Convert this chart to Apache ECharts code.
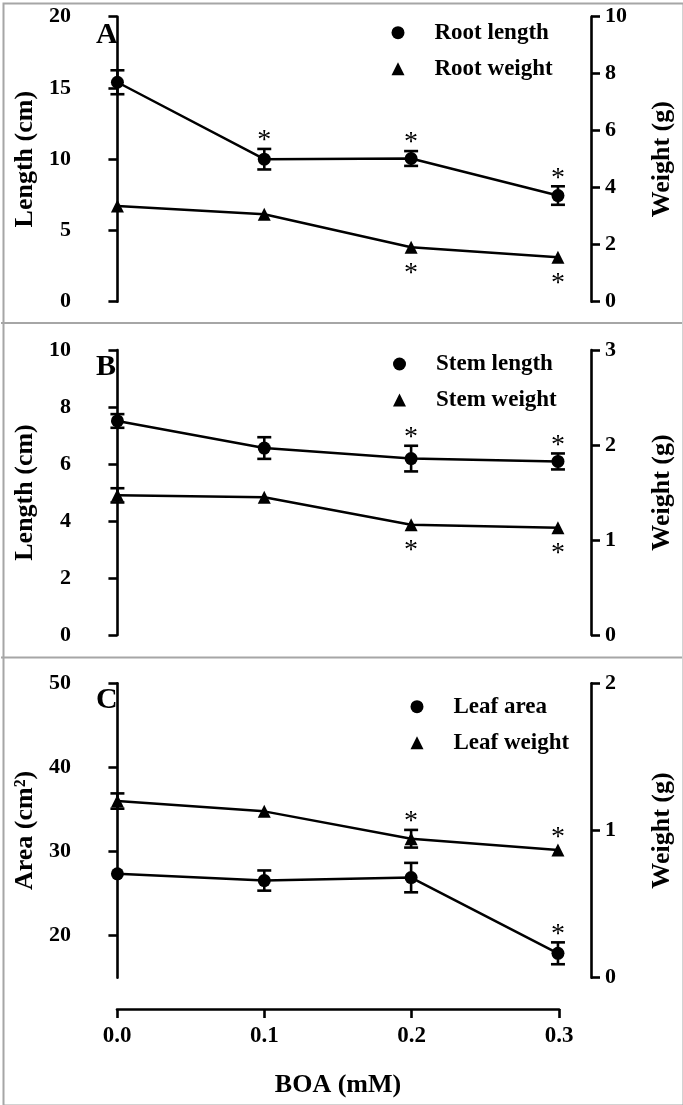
<!DOCTYPE html>
<html>
<head>
<meta charset="utf-8">
<script src="https://cdn.jsdelivr.net/npm/echarts@6/dist/echarts.min.js"></script>
<style>html,body{margin:0;padding:0;background:#fff;}#c{width:683px;height:1105px;}</style>
</head>
<body>
<div id="c"></div>
<script>
// ---- data ----
const doses = [0, 0.1, 0.2, 0.3];
const xTicks = [0, 0.1, 0.2, 0.3];

const rootLength   = [15.4, 10.0, 10.05, 7.45];
const rootLengthSE = [0.84, 0.72, 0.52, 0.65];
const rootWeight   = [3.36, 3.07, 1.91, 1.56];
const rootWeightSE = [0.08, 0.08, 0.08, 0.08];
const rootLengthStar = [0, 1, 1, 1];
const rootWeightStar = [0, 0, 1, 1];

const stemLength   = [7.51, 6.56, 6.19, 6.09];
const stemLengthSE = [0.24, 0.38, 0.45, 0.28];
const stemWeight   = [1.47, 1.45, 1.16, 1.13];
const stemWeightSE = [0.075, 0.03, 0.03, 0.03];
const stemLengthStar = [0, 0, 1, 1];
const stemWeightStar = [0, 0, 1, 1];

const leafArea     = [27.35, 26.55, 26.9, 17.9];
const leafAreaSE   = [0.4, 1.2, 1.75, 1.3];
const leafWeight   = [1.20, 1.13, 0.944, 0.868];
const leafWeightSE = [0.052, 0.02, 0.06, 0.03];
const leafAreaStar   = [0, 0, 0, 1];
const leafWeightStar = [0, 0, 1, 1];

const leftTicksC = [20, 30, 40, 50];

// ---- styling ----
const FONT = "'Liberation Serif', 'Times New Roman', serif";
const BLACK = '#000';
const AXW = 2.6;
const MARK = 13;

function yAx(grid, pos, min, max, interval, name, nameGap, custom) {
  const a = {
    type: 'value', gridIndex: grid, position: pos, min: min, max: max,
    name: name, nameLocation: 'middle', nameGap: nameGap, nameRotate: 90,
    nameTextStyle: {fontFamily: FONT, fontWeight: 'bold', fontSize: 26, color: BLACK},
    axisLine: {show: true, lineStyle: {color: BLACK, width: AXW}},
    axisTick: {show: true, length: 9, lineStyle: {color: BLACK, width: AXW}},
    axisLabel: {fontFamily: FONT, fontWeight: 'bold', fontSize: 22, color: BLACK, margin: pos === 'left' ? 15 : 14},
    splitLine: {show: false}
  };
  if (custom) {
    a.axisLabel.customValues = custom;
    a.axisTick.customValues = custom;
  } else {
    a.interval = interval;
  }
  return a;
}
function xHidden(grid) {
  return {type: 'value', gridIndex: grid, min: -0.0214, max: 0.3225, show: false};
}

function lineSeries(name, xi, yi, vals, sym) {
  return {
    name: name, type: 'line', xAxisIndex: xi, yAxisIndex: yi,
    data: doses.map((d, i) => [d, vals[i]]),
    symbol: sym, symbolSize: MARK, showSymbol: true,
    lineStyle: {color: BLACK, width: 2.5}, itemStyle: {color: BLACK},
    z: 4, silent: true
  };
}
function errSeries(xi, yi, vals, se) {
  return {
    type: 'custom', xAxisIndex: xi, yAxisIndex: yi, z: 3, silent: true,
    data: doses.map((d, i) => [d, vals[i], se[i]]),
    renderItem: function (params, api) {
      const x = api.value(0), y = api.value(1), e = api.value(2);
      const t = api.coord([x, y + e]), b = api.coord([x, y - e]);
      // bars shorter than the symbol are hidden behind it
      if (Math.abs(b[1] - t[1]) / 2 < MARK / 2) return null;
      const hw = 7, st = {stroke: BLACK, lineWidth: 2.6};
      return {type: 'group', children: [
        {type: 'line', shape: {x1: t[0], y1: t[1], x2: b[0], y2: b[1]}, style: st},
        {type: 'line', shape: {x1: t[0] - hw, y1: t[1], x2: t[0] + hw, y2: t[1]}, style: st},
        {type: 'line', shape: {x1: b[0] - hw, y1: b[1], x2: b[0] + hw, y2: b[1]}, style: st}
      ]};
    }
  };
}
function starSeries(xi, yi, vals, se, flags, dir) {
  const data = [];
  doses.forEach((d, i) => { if (flags[i]) data.push([d, vals[i], se[i]]); });
  return {
    type: 'custom', xAxisIndex: xi, yAxisIndex: yi, z: 5, silent: true,
    data: data,
    renderItem: function (params, api) {
      const x = api.value(0), y = api.value(1), e = api.value(2);
      const p = api.coord([x, dir > 0 ? y + e : y]);
      return {type: 'text', x: p[0], y: p[1] + (dir > 0 ? -8 : 26),
        style: {text: '*', font: '28px ' + FONT, fill: BLACK, align: 'center', verticalAlign: 'middle'}};
    }
  };
}
function legendFor(left, top, names) {
  return {
    orient: 'vertical', left: left, top: top, padding: 0,
    itemWidth: 13, itemHeight: 13, itemGap: 13, selectedMode: false,
    textStyle: {fontFamily: FONT, fontWeight: 'bold', fontSize: 23, color: BLACK, lineHeight: 23, padding: [0, 0, 0, 25]},
    data: [{name: names[0], icon: 'circle'}, {name: names[1], icon: 'triangle'}]
  };
}
function letter(t, x, y) {
  return {type: 'text', left: x, top: y - 14, style: {text: t, font: 'bold 30px ' + FONT, fill: BLACK}};
}

const option = {
  animation: false,
  backgroundColor: '#fff',
  grid: [
    {left: 86, right: 91, top: 16.7, height: 285},
    {left: 86, right: 91, top: 350, height: 285},
    {left: 86, right: 91, top: 683.3, height: 294.4},
    {left: 117, right: 124, top: 1008, height: 1}
  ],
  xAxis: [
    xHidden(0), xHidden(1), xHidden(2),
    {
      type: 'value', gridIndex: 3, min: 0, max: 0.3, interval: 0.1, position: 'bottom',
      name: 'BOA (mM)', nameLocation: 'middle', nameGap: 63,
      nameTextStyle: {fontFamily: FONT, fontWeight: 'bold', fontSize: 26, color: BLACK},
      axisLine: {show: true, lineStyle: {color: BLACK, width: AXW}},
      axisTick: {show: true, length: 9, lineStyle: {color: BLACK, width: AXW}},
      axisLabel: {fontFamily: FONT, fontWeight: 'bold', fontSize: 23, color: BLACK, margin: 16,
        customValues: xTicks, formatter: v => v.toFixed(1)},
      splitLine: {show: false}
    }
  ],
  yAxis: [
    yAx(0, 'left', 0, 20, 5, 'Length (cm)', 48),
    yAx(0, 'right', 0, 10, 2, 'Weight (g)', 58),
    yAx(1, 'left', 0, 10, 2, 'Length (cm)', 48),
    yAx(1, 'right', 0, 3, 1, 'Weight (g)', 58),
    yAx(2, 'left', 15, 50, 10, 'Area (cm²)', 48, leftTicksC),
    yAx(2, 'right', 0, 2, 1, 'Weight (g)', 58),
    {type: 'value', gridIndex: 3, show: false, min: 0, max: 1}
  ],
  legend: [
    legendFor(391.5, 21.2, ['Root length', 'Root weight']),
    legendFor(393, 352.5, ['Stem length', 'Stem weight']),
    legendFor(410.5, 695.2, ['Leaf area', 'Leaf weight'])
  ],
  graphic: [
    {type: 'rect', left: 1, top: 1, shape: {width: 680, height: 1102}, style: {fill: 'none', stroke: '#a6a6a6', lineWidth: 2}},
    {type: 'line', shape: {x1: 1, y1: 323, x2: 682, y2: 323}, style: {stroke: '#a6a6a6', lineWidth: 2}},
    {type: 'line', shape: {x1: 1, y1: 657.5, x2: 682, y2: 657.5}, style: {stroke: '#a6a6a6', lineWidth: 2}},
    letter('A', 96, 34),
    letter('B', 96, 366.5),
    letter('C', 96, 699)
  ],
  series: [
    errSeries(0, 0, rootLength, rootLengthSE),
    errSeries(0, 1, rootWeight, rootWeightSE),
    lineSeries('Root length', 0, 0, rootLength, 'circle'),
    lineSeries('Root weight', 0, 1, rootWeight, 'triangle'),
    starSeries(0, 0, rootLength, rootLengthSE, rootLengthStar, 1),
    starSeries(0, 1, rootWeight, rootWeightSE, rootWeightStar, -1),

    errSeries(1, 2, stemLength, stemLengthSE),
    errSeries(1, 3, stemWeight, stemWeightSE),
    lineSeries('Stem length', 1, 2, stemLength, 'circle'),
    lineSeries('Stem weight', 1, 3, stemWeight, 'triangle'),
    starSeries(1, 2, stemLength, stemLengthSE, stemLengthStar, 1),
    starSeries(1, 3, stemWeight, stemWeightSE, stemWeightStar, -1),

    errSeries(2, 4, leafArea, leafAreaSE),
    errSeries(2, 5, leafWeight, leafWeightSE),
    lineSeries('Leaf area', 2, 4, leafArea, 'circle'),
    lineSeries('Leaf weight', 2, 5, leafWeight, 'triangle'),
    starSeries(2, 4, leafArea, leafAreaSE, leafAreaStar, 1),
    starSeries(2, 5, leafWeight, leafWeightSE, leafWeightStar, 1)
  ]
};

const chart = echarts.init(document.getElementById('c'), null, {renderer: 'canvas'});
chart.setOption(option);
</script>
</body>
</html>
